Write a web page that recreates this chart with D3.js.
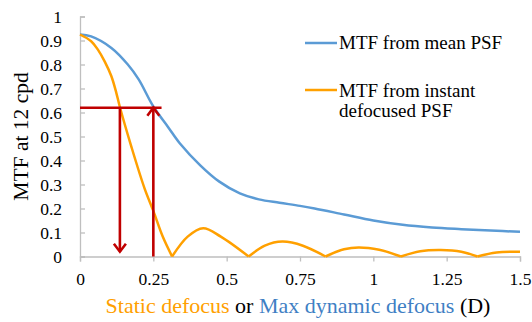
<!DOCTYPE html>
<html>
<head>
<meta charset="utf-8">
<script src="https://cdn.jsdelivr.net/npm/d3@7"></script>
<style>
  body { margin: 0; background: #fff; }
  text { font-family: "Liberation Serif", "Times New Roman", serif; }
</style>
</head>
<body>
<script>
var width = 532, height = 322;
var margin = {top: 16.5, right: 12, bottom: 65.5, left: 80};

// data
var defocusMean = [0, 0.038, 0.107, 0.163, 0.2, 0.25, 0.3, 0.34, 0.41, 0.475, 0.545, 0.61, 0.68, 0.75, 0.8, 0.9, 1.0, 1.1, 1.2, 1.3, 1.4, 1.5];
var mtfMean     = [0.925, 0.917, 0.869, 0.8, 0.738, 0.625, 0.54, 0.472, 0.38, 0.312, 0.263, 0.238, 0.224, 0.211, 0.2, 0.175, 0.15, 0.132, 0.121, 0.114, 0.108, 0.103];

var defocusInst = [0, 0.038, 0.061, 0.084, 0.107, 0.124, 0.135, 0.175, 0.22, 0.25, 0.282, 0.314,
                   0.367, 0.42, 0.48, 0.575, 0.63, 0.69, 0.76, 0.837,
                   0.9, 0.95, 1.02, 1.094, 1.16, 1.23, 1.3, 1.355, 1.42, 1.5];
var mtfInst     = [0.925, 0.897, 0.862, 0.813, 0.751, 0.681, 0.627, 0.458, 0.284, 0.19, 0.083, 0,
                   0.083, 0.118, 0.083, 0, 0.045, 0.062, 0.045, 0,
                   0.03, 0.038, 0.028, 0, 0.022, 0.027, 0.02, 0, 0.017, 0.02];

var xTicks = [0, 0.25, 0.5, 0.75, 1, 1.25, 1.5];
var yTicks = [0, 0.1, 0.2, 0.3, 0.4, 0.5, 0.6, 0.7, 0.8, 0.9, 1];

// red annotation: threshold line and the two arrows
var threshold = 0.62;
var thresholdEnd = 0.278;
var arrowDownX = 0.136, arrowDownEnd = 0.02;
var arrowUpX = 0.25;

var blue = "#5b9bd5", orange = "#ffa000", red = "#c00000";

var svg = d3.select("body").append("svg")
    .attr("width", width)
    .attr("height", height);

var x = d3.scaleLinear().domain([0, 1.5]).range([margin.left, width - margin.right]);
var y = d3.scaleLinear().domain([0, 1]).range([height - margin.bottom, margin.top]);

//axes
var xAxis = d3.axisBottom(x).tickValues(xTicks).tickSize(5).tickPadding(11)
    .tickFormat(function(d){ return String(d); });
var yAxis = d3.axisLeft(y).tickValues(yTicks).tickSize(-5).tickPadding(18)
    .tickFormat(function(d){ return String(d); });

var gx = svg.append("g")
    .attr("transform", "translate(0," + y(0) + ")")
    .call(xAxis);
var gy = svg.append("g")
    .attr("transform", "translate(" + x(0) + ",0)")
    .call(yAxis);

[gx, gy].forEach(function(g){
    g.attr("font-family", null).attr("font-size", null);
    g.select(".domain").attr("stroke", "#bfbfbf").attr("stroke-width", 1.3);
    g.selectAll(".tick line").attr("stroke", "#bfbfbf").attr("stroke-width", 1.3);
    g.selectAll(".tick text").attr("fill", "#000").style("font-size", "17.5px");
});

//curves
var line = d3.line()
    .x(function(d){ return x(d[0]); })
    .y(function(d){ return y(d[1]); })
    .curve(d3.curveCatmullRom.alpha(0.5));

svg.append("path")
    .datum(d3.zip(defocusMean, mtfMean))
    .attr("fill", "none")
    .attr("stroke", blue)
    .attr("stroke-width", 2.5)
    .attr("d", line);

// orange curve is split into arches at its zeros so the cusps stay sharp
var instPts = d3.zip(defocusInst, mtfInst);
var arches = [], cur = [];
instPts.forEach(function(p, i){
    cur.push(p);
    if (p[1] === 0 && i > 0) { arches.push(cur); cur = [p]; }
});
if (cur.length > 1) arches.push(cur);

svg.selectAll(".arch").data(arches).enter().append("path")
    .attr("class", "arch")
    .attr("fill", "none")
    .attr("stroke", orange)
    .attr("stroke-width", 2.5)
    .attr("stroke-linejoin", "round")
    .attr("d", line);

//red annotation
var ann = svg.append("g").attr("stroke", red).attr("stroke-width", 2.6).attr("fill", "none");
ann.append("line")
    .attr("x1", x(0)).attr("x2", x(thresholdEnd))
    .attr("y1", y(threshold)).attr("y2", y(threshold));
ann.append("line")
    .attr("x1", x(arrowDownX)).attr("x2", x(arrowDownX))
    .attr("y1", y(threshold)).attr("y2", y(arrowDownEnd));
ann.append("line")
    .attr("x1", x(arrowUpX)).attr("x2", x(arrowUpX))
    .attr("y1", y(0)).attr("y2", y(threshold));
// open arrow heads
ann.append("path")
    .attr("d", "M" + (x(arrowDownX) - 6) + "," + (y(arrowDownEnd) - 8) +
               "L" + x(arrowDownX) + "," + y(arrowDownEnd) +
               "L" + (x(arrowDownX) + 6) + "," + (y(arrowDownEnd) - 8));
ann.append("path")
    .attr("d", "M" + (x(arrowUpX) - 6) + "," + (y(threshold) + 8) +
               "L" + x(arrowUpX) + "," + y(threshold) +
               "L" + (x(arrowUpX) + 6) + "," + (y(threshold) + 8));

//legend
var legend = svg.append("g").style("font-size", "19px");
legend.append("line").attr("x1", 305).attr("x2", 337).attr("y1", 43).attr("y2", 43)
    .attr("stroke", blue).attr("stroke-width", 2.5);
legend.append("text").attr("x", 339).attr("y", 48.5).text("MTF from mean PSF");
legend.append("line").attr("x1", 305).attr("x2", 337).attr("y1", 90).attr("y2", 90)
    .attr("stroke", orange).attr("stroke-width", 2.5);
legend.append("text").attr("x", 339).attr("y", 97).text("MTF from instant");
legend.append("text").attr("x", 339).attr("y", 116.5).text("defocused PSF");

//axis titles
var xt = svg.append("text")
    .attr("x", (x(0) + x(1.5)) / 2 - 2)
    .attr("y", 313)
    .attr("text-anchor", "middle")
    .style("font-size", "22px");
xt.append("tspan").attr("fill", orange).text("Static defocus");
xt.append("tspan").attr("fill", "#000").text(" or ");
xt.append("tspan").attr("fill", "#3f7fc4").text("Max dynamic defocus");
xt.append("tspan").attr("fill", "#000").text(" (D)");

svg.append("text")
    .attr("transform", "translate(28," + ((y(0) + y(1)) / 2) + ") rotate(-90)")
    .attr("text-anchor", "middle")
    .style("font-size", "21.5px")
    .text("MTF at 12 cpd");
</script>
</body>
</html>
